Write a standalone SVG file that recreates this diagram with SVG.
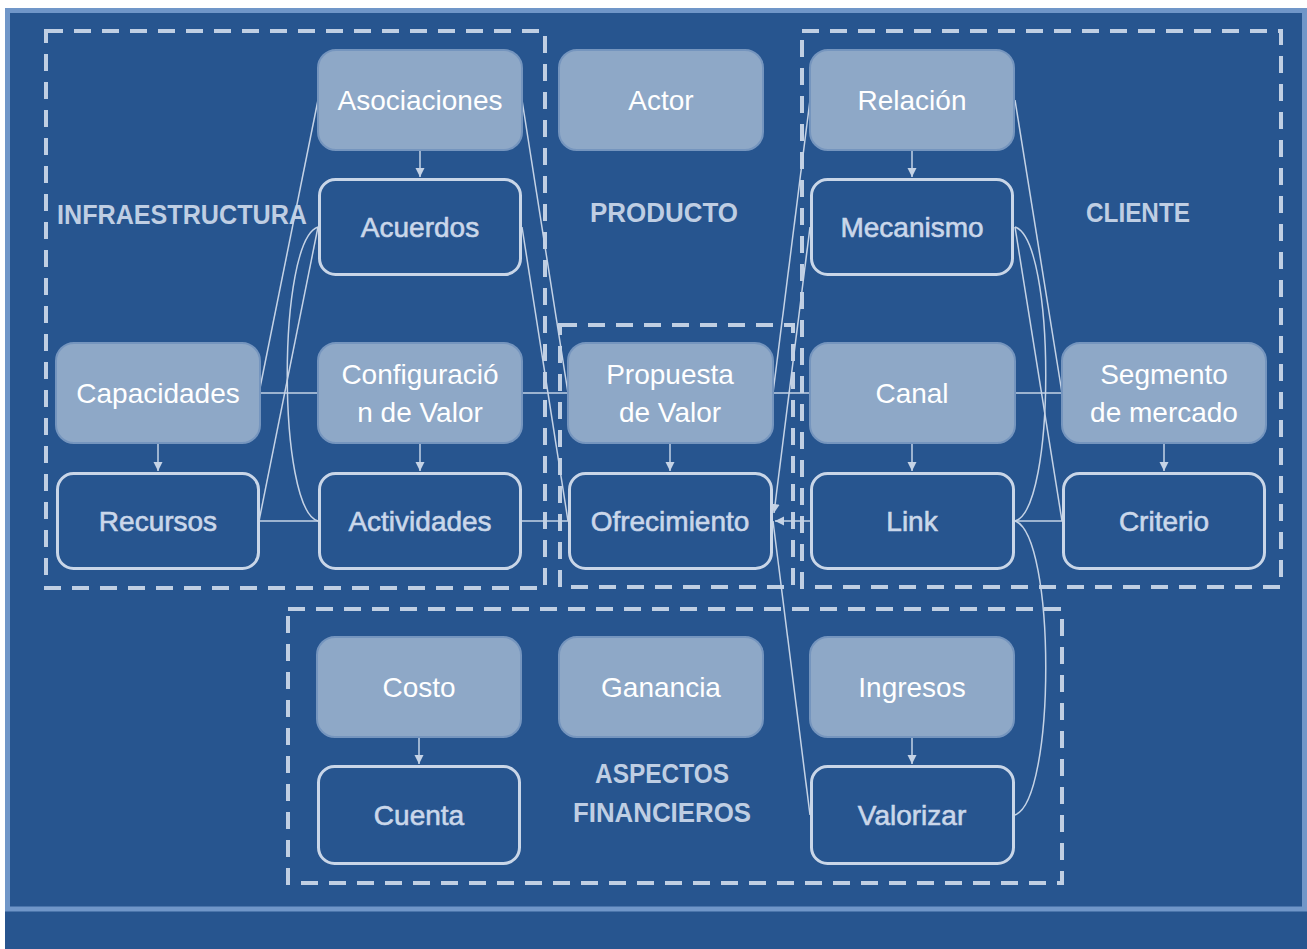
<svg xmlns="http://www.w3.org/2000/svg" width="1307" height="949" viewBox="0 0 1307 949">
<style>
.lt rect{fill:#8ea8c7;stroke:#7595be;stroke-width:2}
.ol rect{fill:none;stroke:#c9d6e8;stroke-width:3}
.lt text{fill:#ffffff;font-family:"Liberation Sans",Arial,sans-serif;font-size:28px;text-anchor:middle}
.ol text{fill:#cad7ea;stroke:#cad7ea;stroke-width:0.6;font-family:"Liberation Sans",Arial,sans-serif;font-size:28px;text-anchor:middle}
.grp{fill:none;stroke:#c0cfe3;stroke-width:4;stroke-dasharray:17 11}
.lbl{fill:#bfcee3;font-family:"Liberation Sans",Arial,sans-serif;font-size:27px;font-weight:bold;text-anchor:middle}
.cn{fill:none;stroke:#c5d3e6;stroke-width:1.5}
.ar{marker-end:url(#ah)}
</style>
<defs>
<marker id="ah" viewBox="0 0 10 10" refX="10" refY="5" markerWidth="9" markerHeight="12" markerUnits="userSpaceOnUse" orient="auto">
<path d="M0,0 L10,5 L0,10 z" fill="#c5d3e6"/>
</marker>
</defs>
<rect x="5" y="8" width="1302" height="941" fill="#27558f"/>
<rect x="7.5" y="10.5" width="1297" height="898.5" fill="none" stroke="#7096c8" stroke-width="5"/>

<g id="groups">
<rect class="grp" x="46" y="31" width="499" height="557"/>
<rect class="grp" x="560" y="325" width="233" height="262"/>
<rect class="grp" x="802" y="31" width="479" height="556"/>
<rect class="grp" x="288" y="609" width="774" height="274"/>
<text class="lbl" x="182" y="224" textLength="250" lengthAdjust="spacingAndGlyphs">INFRAESTRUCTURA</text>
<text class="lbl" x="664" y="222" textLength="148" lengthAdjust="spacingAndGlyphs">PRODUCTO</text>
<text class="lbl" x="1138" y="222" textLength="104" lengthAdjust="spacingAndGlyphs">CLIENTE</text>
<text class="lbl" x="662" y="783" textLength="134" lengthAdjust="spacingAndGlyphs">ASPECTOS</text>
<text class="lbl" x="662" y="822" textLength="178" lengthAdjust="spacingAndGlyphs">FINANCIEROS</text>
</g>

<g id="connectors">
<line class="cn ar" x1="420" y1="150" x2="420" y2="177"/>
<line class="cn ar" x1="912" y1="150" x2="912" y2="177"/>
<line class="cn ar" x1="158" y1="443" x2="158" y2="471"/>
<line class="cn ar" x1="420" y1="443" x2="420" y2="471"/>
<line class="cn ar" x1="670" y1="443" x2="670" y2="471"/>
<line class="cn ar" x1="912" y1="443" x2="912" y2="471"/>
<line class="cn ar" x1="1164" y1="443" x2="1164" y2="471"/>
<line class="cn ar" x1="419" y1="737" x2="419" y2="764"/>
<line class="cn ar" x1="912" y1="737" x2="912" y2="764"/>
<line class="cn" x1="259" y1="393" x2="318" y2="393"/>
<line class="cn" x1="522" y1="393" x2="568" y2="393"/>
<line class="cn" x1="773" y1="393" x2="810" y2="393"/>
<line class="cn" x1="1015" y1="393" x2="1062" y2="393"/>
<line class="cn" x1="259" y1="521" x2="318" y2="521"/>
<line class="cn" x1="522" y1="521" x2="568" y2="521"/>
<line class="cn ar" x1="810" y1="521" x2="775" y2="521"/>
<line class="cn" x1="1016" y1="521" x2="1062" y2="521"/>
<line class="cn" x1="318" y1="100" x2="259" y2="393"/>
<line class="cn" x1="522" y1="100" x2="568" y2="393"/>
<line class="cn" x1="810" y1="100" x2="773" y2="393"/>
<line class="cn" x1="1015" y1="100" x2="1062" y2="393"/>
<line class="cn" x1="318" y1="227" x2="259" y2="521"/>
<line class="cn" x1="522" y1="227" x2="568" y2="521"/>
<line class="cn ar" x1="810" y1="227" x2="774" y2="513"/>
<line class="cn" x1="1015" y1="227" x2="1062" y2="521"/>
<path class="cn" d="M318,227 C277,240 277,510 318,521"/>
<path class="cn" d="M1015,227 C1056,240 1056,510 1015,521"/>
<path class="cn" d="M1015,521 C1056,535 1056,800 1015,815"/>
<line class="cn" x1="773" y1="521" x2="810" y2="815"/>
</g>

<g id="asociaciones" class="lt"><rect x="318" y="50" width="204" height="100" rx="18"/><text x="420" y="110">Asociaciones</text></g>
<g id="actor" class="lt"><rect x="559" y="50" width="204" height="100" rx="18"/><text x="661" y="110">Actor</text></g>
<g id="relacion" class="lt"><rect x="810" y="50" width="204" height="100" rx="18"/><text x="912" y="110">Relación</text></g>
<g id="acuerdos" class="ol"><rect x="319.5" y="179.5" width="201" height="95" rx="16"/><text x="420" y="237">Acuerdos</text></g>
<g id="mecanismo" class="ol"><rect x="811.5" y="179.5" width="201" height="95" rx="16"/><text x="912" y="237">Mecanismo</text></g>
<g id="capacidades" class="lt"><rect x="56" y="343" width="204" height="100" rx="18"/><text x="158" y="403">Capacidades</text></g>
<g id="configuracion" class="lt"><rect x="318" y="343" width="204" height="100" rx="18"/><text x="420" y="384">Configuració</text><text x="420" y="422">n de Valor</text></g>
<g id="propuesta" class="lt"><rect x="568" y="343" width="205" height="100" rx="18"/><text x="670" y="384">Propuesta</text><text x="670" y="422">de Valor</text></g>
<g id="canal" class="lt"><rect x="810" y="343" width="205" height="100" rx="18"/><text x="912" y="403">Canal</text></g>
<g id="segmento" class="lt"><rect x="1062" y="343" width="204" height="100" rx="18"/><text x="1164" y="384">Segmento</text><text x="1164" y="422">de mercado</text></g>
<g id="recursos" class="ol"><rect x="57.5" y="473.5" width="201" height="95" rx="16"/><text x="158" y="531">Recursos</text></g>
<g id="actividades" class="ol"><rect x="319.5" y="473.5" width="201" height="95" rx="16"/><text x="420" y="531">Actividades</text></g>
<g id="ofrecimiento" class="ol"><rect x="569.5" y="473.5" width="202" height="95" rx="16"/><text x="670" y="531">Ofrecimiento</text></g>
<g id="link" class="ol"><rect x="811.5" y="473.5" width="202" height="95" rx="16"/><text x="912" y="531">Link</text></g>
<g id="criterio" class="ol"><rect x="1063.5" y="473.5" width="201" height="95" rx="16"/><text x="1164" y="531">Criterio</text></g>
<g id="costo" class="lt"><rect x="317" y="637" width="204" height="100" rx="18"/><text x="419" y="697">Costo</text></g>
<g id="ganancia" class="lt"><rect x="559" y="637" width="204" height="100" rx="18"/><text x="661" y="697">Ganancia</text></g>
<g id="ingresos" class="lt"><rect x="810" y="637" width="204" height="100" rx="18"/><text x="912" y="697">Ingresos</text></g>
<g id="cuenta" class="ol"><rect x="318.5" y="766.5" width="201" height="97" rx="16"/><text x="419" y="825">Cuenta</text></g>
<g id="valorizar" class="ol"><rect x="811.5" y="766.5" width="202" height="97" rx="16"/><text x="912" y="825">Valorizar</text></g>
</svg>
